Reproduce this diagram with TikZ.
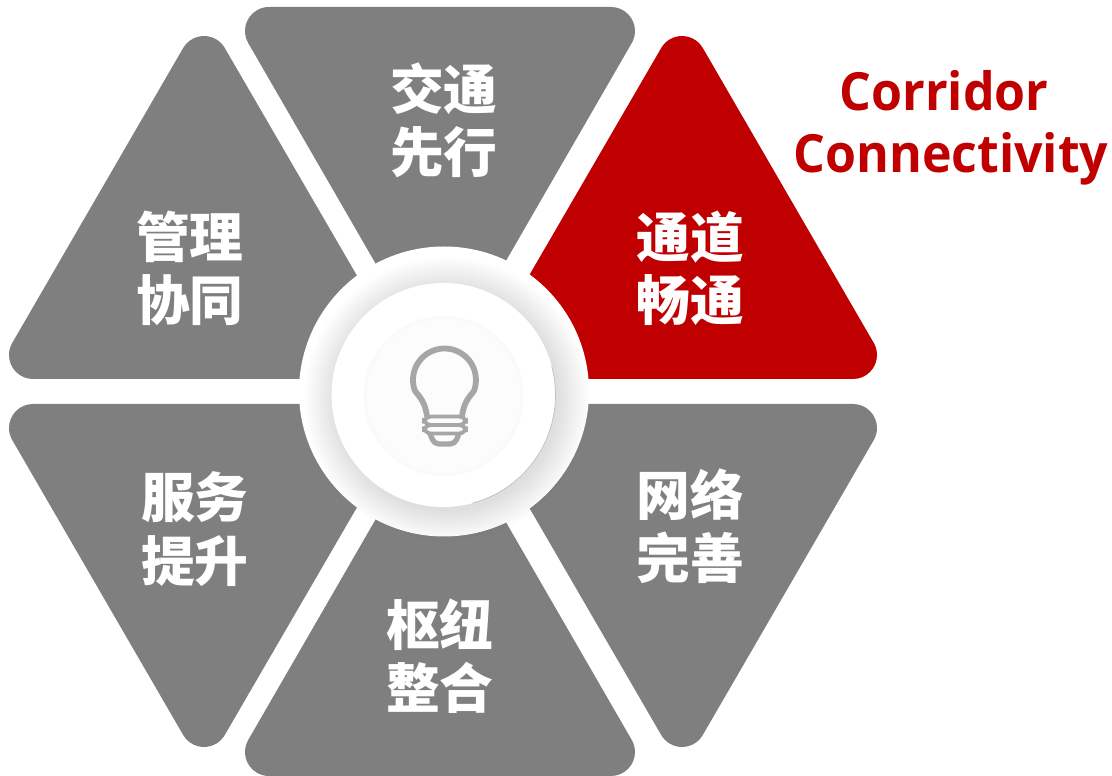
\documentclass[tikz,border=0pt]{standalone}
\usepackage{fontspec}
\newfontfamily\cjkfont{Noto Sans CJK SC}
\setmainfont[FakeStretch=.95]{Open Sans}
\definecolor{SectorGray}{HTML}{7F7F7F}
\definecolor{SectorRed}{HTML}{C00000}
\definecolor{BulbGray}{HTML}{A6A6A6}
\def\sidepath{(-26,12.5) -- (-410,12.5) arc (270:150:24) -- (-259.8,343.5) arc (150:30:24) -- cycle}
\def\toppath{(-3,16.5) -- (-194.8,348.5) arc (210:90:24) -- (168,384.5) arc (90:-30:24) -- cycle}

\begin{document}
\begin{tikzpicture}
[x=.02cm,y=.02cm,
   sector/.style={fill=SectorGray},
   lb/.style={font=\cjkfont\bfseries\fontsize{30.6}{36}\selectfont,text=white,align=center,inner sep=0pt},
   title/.style={font=\bfseries\fontsize{30}{36}\selectfont,text=SectorRed,inner sep=0pt},
   bulb/.style={draw=BulbGray,line width=3.3pt,line join=round},
   bulbbar/.style={draw=BulbGray,line width=2.2pt,rounded corners=1.4mm}]
\useasboundingbox (-443,-384.5) rectangle (669,391.5);

\fill[sector] \sidepath;
\fill[sector,yscale=-1] \sidepath;
\fill[sector,xscale=-1,yscale=-1] \sidepath;
\fill[SectorRed,xscale=-1] \sidepath;
\fill[sector] \toppath;
\fill[sector,yscale=-1] \toppath;

\node[lb] (traffic) at (1,271) {交通\\先行};
\node[lb] (manage) at (-253,123.5) {管理\\协同};
\node[lb] (corridor) at (247,123.5) {通道\\畅通};
\node[lb] (service) at (-248,-137.5) {服务\\提升};
\node[lb] (network) at (247,-135) {网络\\完善};
\node[lb] (hub) at (-3,-265) {枢纽\\整合};

\node[title] (line1) at (501,300.5) {Corridor};
\node[title] (line2) at (508,233) {Connectivity};

%% centre
\fill[white] (1,0) circle (145);
\foreach \r in {0,2,...,30}
   \fill[black,opacity=.009] (4,-8) circle (112+\r);
\fill[white] (.5,-3.5) circle (112);
\draw[gray!50,line width=.4pt] (.5,-3.5) ++(-75:112) arc (-75:15:112);
\fill[black!2] (.5,-4.5) circle (80);
\fill[white!99!black] (.5,-4.5) circle (77);

%% bulb
\draw[bulb] (-16,-25) .. controls (-18,-10) and (-23,-6) .. (-28.1,.7)
   arc (200:-20:31.5) .. controls (26,-6) and (21,-10) .. (19,-25);
\draw[bulbbar] (-19,-25) rectangle (23,-33.5);
\draw[bulbbar] (-19,-33.5) rectangle (23,-42);
\draw[bulbbar,line width=3pt,rounded corners=1mm] (-13,-42) -- (-9,-52.5) -- (12,-52.5) -- (16,-42);
\end{tikzpicture}
\end{document}
